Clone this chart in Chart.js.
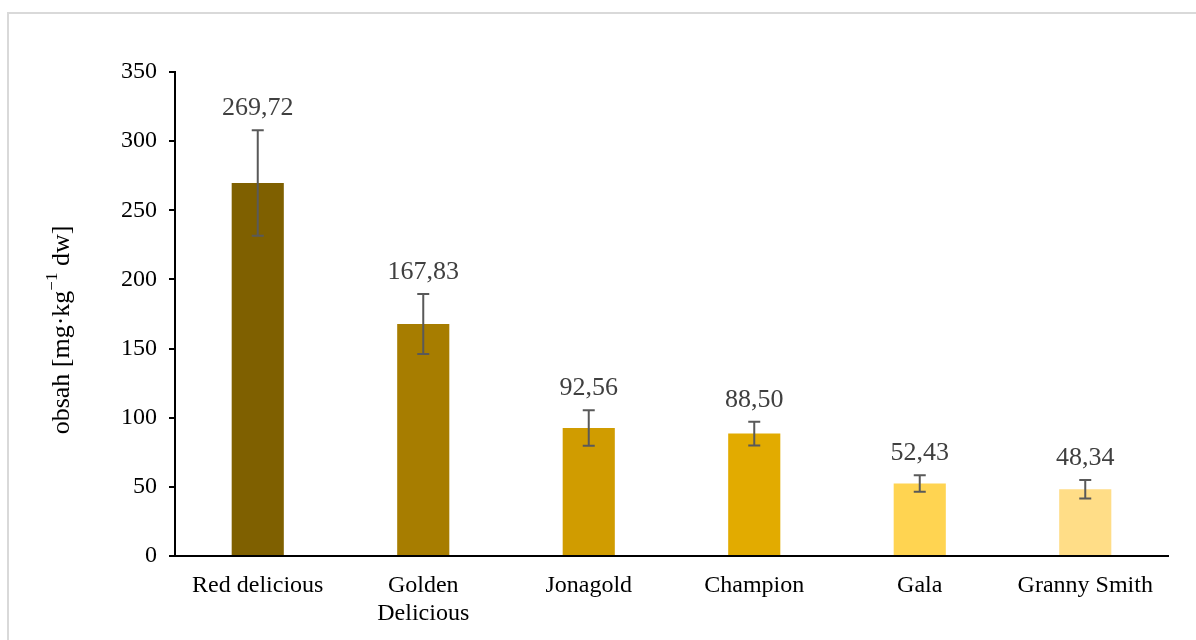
<!DOCTYPE html>
<html>
<head>
<meta charset="utf-8">
<script src="https://cdn.jsdelivr.net/npm/chart.js@4.4.1/dist/chart.umd.min.js"></script>
<style>
  body { margin: 0; background: #fff; }
  .frame { position: absolute; left: 7px; top: 12px; width: 1200px; height: 640px; border: 2px solid #d9d9d9; }
  #chart { position: absolute; left: 0; top: 0; }
</style>
</head>
<body>
<div class="frame"></div>
<canvas id="chart" width="1196" height="640"></canvas>
<script>
const varieties = ['Red delicious', ['Golden', 'Delicious'], 'Jonagold', 'Champion', 'Gala', 'Granny Smith'];
const content = [269.72, 167.83, 92.56, 88.50, 52.43, 48.34];
const errors = [38.1, 21.7, 12.9, 8.6, 5.9, 6.7];
const barColors = ['#7f6000', '#a77d00', '#d09c00', '#e2ab00', '#ffd451', '#ffdd87'];
const yTicks = [0, 50, 100, 150, 200, 250, 300, 350];

const serif = '"Liberation Serif", "Times New Roman", serif';

// error bars + value labels
const errorBars = {
  id: 'errorBars',
  afterDatasetsDraw(chart) {
    const ctx = chart.ctx;
    const y = chart.scales.y;
    const meta = chart.getDatasetMeta(0);
    ctx.save();
    meta.data.forEach((bar, i) => {
      const top = y.getPixelForValue(content[i] + errors[i]);
      const bot = y.getPixelForValue(content[i] - errors[i]);
      ctx.strokeStyle = '#595959';
      ctx.lineWidth = 2;
      ctx.beginPath();
      ctx.moveTo(bar.x, top); ctx.lineTo(bar.x, bot);
      ctx.moveTo(bar.x - 6, top); ctx.lineTo(bar.x + 6, top);
      ctx.moveTo(bar.x - 6, bot); ctx.lineTo(bar.x + 6, bot);
      ctx.stroke();

      ctx.fillStyle = '#404040';
      ctx.font = '26px ' + serif;
      ctx.textAlign = 'center';
      ctx.textBaseline = 'alphabetic';
      ctx.fillText(content[i].toFixed(2).replace('.', ','), bar.x, top - 15);
    });
    ctx.restore();
  }
};

// y title with superscript
const yTitle = {
  id: 'yTitle',
  afterDraw(chart) {
    const ctx = chart.ctx;
    const parts = [['obsah [mg·kg', 26, 0], ['−1', 17, -9], [' dw]', 26, 0]];
    ctx.save();
    ctx.translate(62, 330);
    ctx.rotate(-Math.PI / 2);
    ctx.fillStyle = '#000';
    ctx.textBaseline = 'middle';
    let total = 0;
    parts.forEach(p => { ctx.font = p[1] + 'px ' + serif; total += ctx.measureText(p[0]).width; });
    let x = -total / 2;
    parts.forEach(p => {
      ctx.font = p[1] + 'px ' + serif;
      ctx.fillText(p[0], x, p[2]);
      x += ctx.measureText(p[0]).width;
    });
    ctx.restore();
  }
};

new Chart(document.getElementById('chart'), {
  type: 'bar',
  data: {
    labels: varieties,
    datasets: [{
      data: content,
      backgroundColor: barColors,
      borderWidth: 0,
      categoryPercentage: 1,
      barPercentage: 0.315
    }]
  },
  options: {
    responsive: false,
    animation: false,
    layout: { padding: { top: 72, right: 28, left: 0, bottom: 0 } },
    plugins: { legend: { display: false }, tooltip: { enabled: false } },
    scales: {
      x: {
        grid: { display: false, drawTicks: false },
        border: { display: true, color: '#000', width: 2 },
        ticks: { color: '#000', font: { family: serif, size: 24 }, padding: 15, maxRotation: 0 },
        afterFit(scale) { scale.height = 84; }
      },
      y: {
        min: 0,
        max: 350,
        afterBuildTicks(scale) { scale.ticks = yTicks.map(v => ({ value: v })); },
        grid: { display: true, drawOnChartArea: false, drawTicks: true, tickLength: 6, color: '#000', lineWidth: 2 },
        border: { display: true, color: '#000', width: 2 },
        ticks: { color: '#000', font: { family: serif, size: 24 }, padding: 12 },
        afterFit(scale) { scale.width = 175; }
      }
    }
  },
  plugins: [errorBars, yTitle]
});
</script>
</body>
</html>
